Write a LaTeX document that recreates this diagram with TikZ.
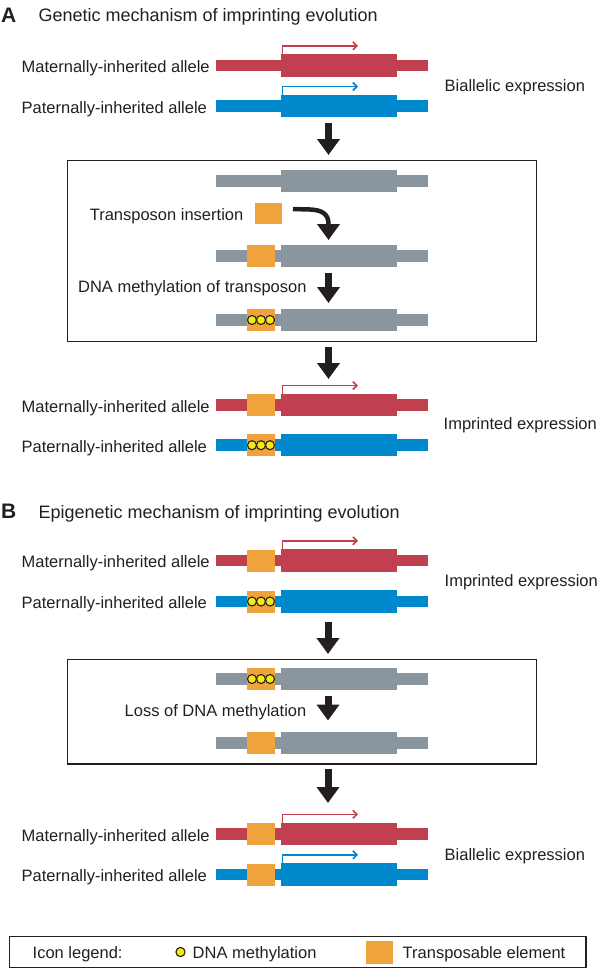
\documentclass[tikz,border=0pt]{standalone}
\usepackage{fontspec}
\setmainfont{Liberation Sans}
\usetikzlibrary{arrows.meta}
\definecolor{genered}{RGB}{192,64,80}
\definecolor{geneblue}{RGB}{0,136,204}
\definecolor{genegray}{RGB}{138,149,158}
\definecolor{teorange}{RGB}{240,162,60}
\definecolor{methylyellow}{RGB}{245,233,20}
\definecolor{ink}{RGB}{35,31,32}
\tikzset{
  lbl/.style={font=\fontsize{16.5}{19}\selectfont, text=ink, inner sep=0pt},
  ttl/.style={font=\fontsize{18}{21}\selectfont, text=ink, inner sep=0pt},
  panel/.style={font=\fontsize{21}{24}\selectfont\bfseries, text=ink, inner sep=0pt},
  frame/.style={draw=ink, line width=1.2pt},
  bigarrow/.style={draw=ink, line width=7pt, -{Triangle[width=22pt,length=16pt]}},
  curvearrow/.style={draw=ink, line width=4.5pt, -{Triangle[width=22pt,length=16pt]}},
  methyl/.style={draw=ink, fill=methylyellow, line width=1.1pt},
}
\newcommand\genebar[2]{%
  \fill[#2] (216,{#1-5.8}) rectangle (428,{#1+5.8});
  \fill[#2] (281,{#1-11.2}) rectangle (397,{#1+11.2});}
\newcommand\tebox[1]{\fill[teorange] (247,{#1-11}) rectangle (275,{#1+11});}
\newcommand\methdots[1]{\foreach \cx in {252,261,270} {\draw[methyl] (\cx,#1) circle (4.5);}}
\newcommand\promoter[2]{\draw[#2, line width=1.6pt, -{Straight Barb[length=4pt,width=8pt]}] (282.6,{#1-11.2}) |- (358,{#1-19.7});}
\begin{document}
\begin{tikzpicture}[x=1pt,y=-1pt]
\useasboundingbox (0,0) rectangle (598,969);

% ---------- Panel A ----------
\node[panel, anchor=base west] (pA) at (1,22) {A};
\node[ttl, anchor=base west] (tA) at (38.3,21.5) {Genetic mechanism of imprinting evolution};

% row A1
\genebar{65.5}{genered}\promoter{65.5}{genered}
\genebar{106.2}{geneblue}\promoter{106.2}{geneblue}
\node[lbl, anchor=base west] (mA1) at (21.5,72.7) {Maternally-inherited allele};
\node[lbl, anchor=base west] (pA1) at (21.5,113.4) {Paternally-inherited allele};
\node[lbl, anchor=base west] (bA) at (444.5,91.8) {Biallelic expression};

% box A
\draw[frame] (67.7,160.7) rectangle (536.7,341.7);
\genebar{181}{genegray}
\fill[teorange] (255,202.7) rectangle (282,224.3);
\node[lbl, anchor=base east] (ti) at (243.5,220) {Transposon insertion};
\genebar{256}{genegray}\tebox{256}
\node[lbl, anchor=base east] (dm) at (306.7,292.7) {DNA methylation of transposon};
\genebar{320}{genegray}\tebox{320}\methdots{320}

% row A2
\genebar{405.2}{genered}\tebox{405.2}\promoter{405.2}{genered}
\genebar{445.2}{geneblue}\tebox{445.2}\methdots{445.2}
\node[lbl, anchor=base west] (mA2) at (21.5,412.4) {Maternally-inherited allele};
\node[lbl, anchor=base west] (pA2) at (21.5,452.4) {Paternally-inherited allele};
\node[lbl, anchor=base west] (iA) at (443.5,429.3) {Imprinted expression};

% arrows A
\coordinate (a1s) at (328.5,123);  \coordinate (a1e) at (328.5,155);
\coordinate (a2s) at (293,209);    \coordinate (a2e) at (328.5,240);
\coordinate (a3s) at (328.5,273);  \coordinate (a3e) at (328.5,303);
\coordinate (a4s) at (328.5,346.5);\coordinate (a4e) at (328.5,379);
\draw[bigarrow] (a1s) -- (a1e);
\draw[curvearrow] (a2s) -- (310,209.5) .. controls (322,210) and (328.5,214) .. (328.5,224) -- (a2e);
\draw[bigarrow] (a3s) -- (a3e);
\draw[bigarrow] (a4s) -- (a4e);

% ---------- Panel B ----------
\node[panel, anchor=base west] (pB) at (1,518.6) {B};
\node[ttl, anchor=base west] (tB) at (38.3,518) {Epigenetic mechanism of imprinting evolution};

\genebar{560.6}{genered}\tebox{560.6}\promoter{560.6}{genered}
\genebar{601.5}{geneblue}\tebox{601.5}\methdots{601.5}
\node[lbl, anchor=base west] (mB1) at (21.5,567.8) {Maternally-inherited allele};
\node[lbl, anchor=base west] (pB1) at (21.5,608.7) {Paternally-inherited allele};
\node[lbl, anchor=base west] (iB) at (444.5,586.2) {Imprinted expression};

% box B
\draw[frame] (67.7,659.3) rectangle (536.7,764);
\genebar{679}{genegray}\tebox{679}\methdots{679}
\node[lbl, anchor=base east] (lm) at (306.5,716.7) {Loss of DNA methylation};
\genebar{743}{genegray}\tebox{743}

\genebar{834}{genered}\tebox{834}\promoter{834}{genered}
\genebar{874.5}{geneblue}\tebox{874.5}\promoter{874.5}{geneblue}
\node[lbl, anchor=base west] (mB2) at (21.5,841.2) {Maternally-inherited allele};
\node[lbl, anchor=base west] (pB2) at (21.5,881.7) {Paternally-inherited allele};
\node[lbl, anchor=base west] (bB) at (444.5,860) {Biallelic expression};

\coordinate (b1s) at (328,621.7); \coordinate (b1e) at (328,654);
\coordinate (b2s) at (328,696);   \coordinate (b2e) at (328,720.5);
\coordinate (b3s) at (328,769);   \coordinate (b3e) at (328,803);
\draw[bigarrow] (b1s) -- (b1e);
\draw[bigarrow] (b2s) -- (b2e);
\draw[bigarrow] (b3s) -- (b3e);

% ---------- Legend ----------
\draw[frame] (9.8,936.5) rectangle (586,967.5);
\node[lbl, anchor=base west] (il) at (32.5,958) {Icon legend:};
\draw[methyl] (180.5,952) circle (4.6);
\node[lbl, anchor=base west] (ld) at (192.5,958) {DNA methylation};
\fill[teorange] (366,940.5) rectangle (393,963.5);
\node[lbl, anchor=base west] (lt) at (402.5,958) {Transposable element};
\end{tikzpicture}
\end{document}
